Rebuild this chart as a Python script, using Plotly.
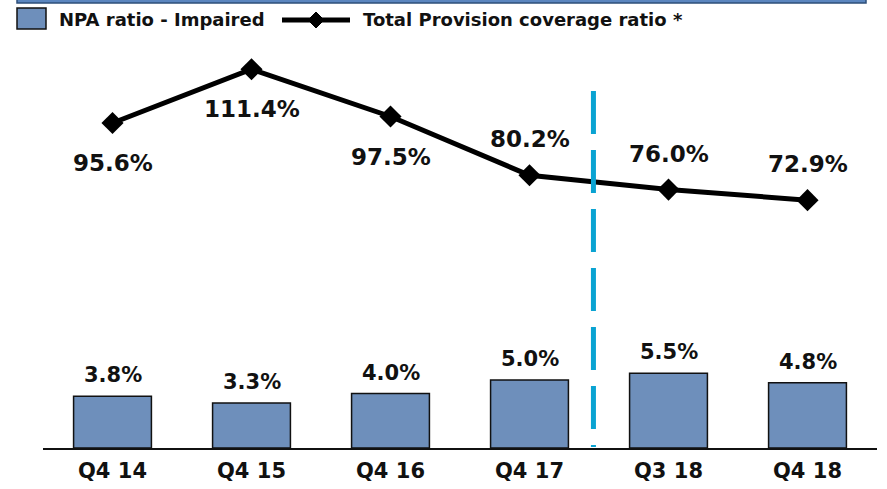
import plotly.graph_objects as go

categories = ["Q4 14", "Q4 15", "Q4 16", "Q4 17", "Q3 18", "Q4 18"]
npa_ratio = [3.8, 3.3, 4.0, 5.0, 5.5, 4.8]
coverage_ratio = [95.6, 111.4, 97.5, 80.2, 76.0, 72.9]
coverage_label_side = ["below", "below", "below", "above", "above", "above"]

FONT = "DejaVu Sans"
BAR_COLOR = "#6E8FBB"
DASH_COLOR = "#0AA3D2"

fig = go.Figure()
fig.add_trace(go.Bar(
    x=categories, y=npa_ratio, width=0.56,
    marker=dict(color=BAR_COLOR, line=dict(color="#111111", width=1.5)),
    yaxis="y", showlegend=False, hoverinfo="skip",
))
fig.add_trace(go.Scatter(
    x=categories, y=coverage_ratio, mode="lines+markers",
    line=dict(color="black", width=5),
    marker=dict(symbol="diamond", size=17, color="black"),
    yaxis="y2", showlegend=False, hoverinfo="skip",
))

annotations = []
for c, v in zip(categories, npa_ratio):
    annotations.append(dict(
        x=c, y=v, xref="x", yref="y", text=f"<b>{v:.1f}%</b>",
        showarrow=False, yanchor="bottom", yshift=7,
        font=dict(family=FONT, size=21, color="#111111"),
    ))
for c, v, side in zip(categories, coverage_ratio, coverage_label_side):
    annotations.append(dict(
        x=c, y=v, xref="x", yref="y2", text=f"<b>{v:.1f}%</b>",
        showarrow=False, yanchor="middle",
        yshift=-40 if side == "below" else 36,
        font=dict(family=FONT, size=23, color="#111111"),
    ))

# custom legend
annotations.append(dict(
    x=57, y=20, xref="paper", yref="paper", text="<b>NPA ratio - Impaired</b>",
    showarrow=False, xanchor="left", yanchor="middle",
    font=dict(family=FONT, size=18, color="#111111"),
))
annotations.append(dict(
    x=361, y=20, xref="paper", yref="paper", text="<b>Total Provision coverage ratio *</b>",
    showarrow=False, xanchor="left", yanchor="middle",
    font=dict(family=FONT, size=18, color="#111111"),
))

W, H = 887, 489
L, R, T, B = 43, 10, 40, 41
pw, ph = W - L - R, H - T - B


def px_x(p):
    return (p - L) / pw


def px_y(p):
    return (H - B - p) / ph


for a in annotations:
    if a["xref"] == "paper":
        a["x"] = px_x(a["x"])
        a["y"] = px_y(a["y"])

shapes = [
    # top band
    dict(type="rect", xref="paper", yref="paper",
         x0=px_x(17), x1=px_x(866), y0=px_y(3), y1=px_y(-3),
         fillcolor="#5B86BF", line=dict(color="#2E4F7A", width=1.5)),
    # legend bar swatch
    dict(type="rect", xref="paper", yref="paper",
         x0=px_x(17), x1=px_x(46), y0=px_y(29), y1=px_y(8),
         fillcolor=BAR_COLOR, line=dict(color="#111111", width=1.5)),
    # legend line
    dict(type="line", xref="paper", yref="paper",
         x0=px_x(282), x1=px_x(350), y0=px_y(20), y1=px_y(20),
         line=dict(color="black", width=5)),
    dict(type="path", xref="paper", yref="paper",
         path=f"M {px_x(316)},{px_y(12)} L {px_x(324)},{px_y(20)} L {px_x(316)},{px_y(28)} L {px_x(308)},{px_y(20)} Z",
         fillcolor="black", line=dict(color="black", width=1)),
    # dashed divider (drawn top to bottom so the dash pattern starts at the top)
    dict(type="line", xref="x", yref="paper", x0=3.46, x1=3.46,
         y0=px_y(91), y1=px_y(447),
         line=dict(color=DASH_COLOR, width=5, dash="43px,16px")),
]

fig.update_layout(
    width=W, height=H,
    margin=dict(l=L, r=R, t=T, b=B),
    paper_bgcolor="white", plot_bgcolor="white",
    bargap=0.44,
    xaxis=dict(
        type="category", range=[-0.5, 5.5], showgrid=False, zeroline=False,
        showline=True, linecolor="#111111", linewidth=2, ticks="",
        ticklabelstandoff=3, automargin=False,
        tickfont=dict(family=FONT, size=21, color="#111111"),
        tickvals=categories, ticktext=[f"<b>{c}</b>" for c in categories],
    ),
    yaxis=dict(range=[0, 30], visible=False, showgrid=False, zeroline=False,
               automargin=False),
    yaxis2=dict(range=[0, 120], overlaying="y", visible=False,
                showgrid=False, zeroline=False, automargin=False),
    annotations=annotations,
    shapes=shapes,
    showlegend=False,
)

fig.write_html(
    "out.html",
    config={"displayModeBar": False},
    post_script="document.body.style.margin='0';document.body.style.overflow='hidden';",
)
